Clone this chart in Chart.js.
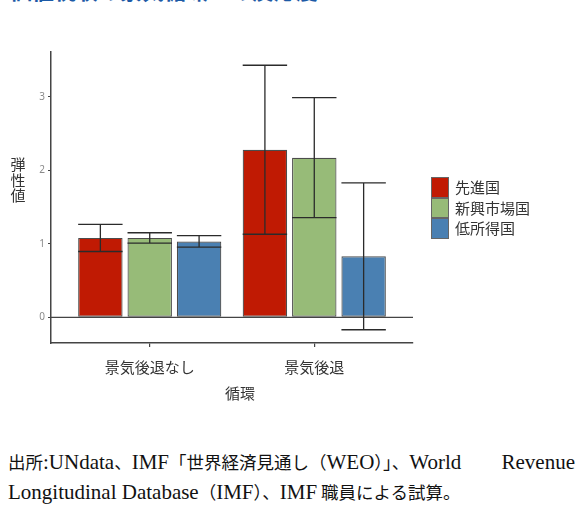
<!DOCTYPE html>
<html>
<head>
<meta charset="utf-8">
<script src="https://cdn.jsdelivr.net/npm/chart.js@4"></script>
<style>
  body { margin: 0; width: 580px; height: 523px; background: #fff; position: relative; overflow: hidden;
         font-family: "Noto Sans CJK JP", "Noto Sans", sans-serif; }
  #wrap { position: absolute; left: 0; top: 0; width: 580px; height: 420px; }
  .title { position: absolute; left: 10px; top: -22px; font-size: 22px; font-weight: bold; color: #1d5aa6; white-space: nowrap; line-height: 22px; }
  .ytitle { position: absolute; left: 10px; top: 156px; width: 16px; font-size: 15px; line-height: 15.5px; color: #333; text-align: center; }
  .xtitle { position: absolute; left: 210px; width: 60px; top: 384px; font-size: 15px; line-height: 18px; color: #333; text-align: center; }
  .legend { position: absolute; left: 431px; top: 177px; }
  .legend .row { height: 20.5px; position: relative; }
  .legend .sw { position: absolute; left: 0; top: 0; width: 16px; height: 18.5px; border: 1px solid #666; }
  .legend .lab { position: absolute; left: 24px; top: 0; font-size: 15px; line-height: 20px; color: #333; white-space: nowrap; }
  .note { position: absolute; left: 8px; top: 447px; width: 567px; font-family: "Noto Sans CJK JP", serif;
          font-size: 17.5px; line-height: 30px; color: #111; }
  .note .en { font-family: "Liberation Serif", serif; font-size: 21px; }
  .note .l1 { display: flex; justify-content: space-between; white-space: nowrap; }
</style>
</head>
<body>
<div class="title">価値税収の景気循環への反応度</div>
<div id="wrap"><canvas id="chart" width="580" height="420"></canvas></div>
<div class="ytitle">弾<br>性<br>値</div>
<div class="xtitle">循環</div>
<div class="legend" id="legend"></div>
<div class="note">
  <div class="l1"><span>出所<span class="en">:UNdata</span>、<span class="en">IMF</span>「世界経済見通し（<span class="en">WEO</span>）」、<span class="en">World</span></span><span class="en">Revenue</span></div>
  <div><span class="en">Longitudinal Database</span>（<span class="en">IMF</span>）、<span class="en">IMF</span> 職員による試算。</div>
</div>
<script>
const categories = ["景気後退なし", "景気後退"];
const seriesNames = ["先進国", "新興市場国", "低所得国"];
const colors = ["#C01A03", "#97BB78", "#4A80B2"];

// bar heights (point estimates)
const advanced = [1.08, 2.28];
const emerging = [1.08, 2.17];
const lowIncome = [1.03, 0.83];

// error bar limits
const advancedLow = [0.895, 1.13];
const advancedHigh = [1.265, 3.43];
const emergingLow = [1.01, 1.355];
const emergingHigh = [1.15, 2.99];
const lowIncomeLow = [0.955, -0.17];
const lowIncomeHigh = [1.11, 1.83];

const yTicks = [0, 1, 2, 3];

const values = [advanced, emerging, lowIncome];
const lows = [advancedLow, emergingLow, lowIncomeLow];
const highs = [advancedHigh, emergingHigh, lowIncomeHigh];

const toPoints = (arr) => arr.map((v, i) => ({ x: i + 1, y: v }));

// legend
const legend = document.getElementById("legend");
seriesNames.forEach((name, i) => {
  const row = document.createElement("div");
  row.className = "row";
  row.innerHTML = '<div class="sw" style="background:' + colors[i] + '"></div><div class="lab">' + name + "</div>";
  legend.appendChild(row);
});

const zeroLine = {
  id: "zeroLine",
  beforeDatasetsDraw(chart) {
    const { ctx, chartArea, scales } = chart;
    const y = scales.y.getPixelForValue(0);
    ctx.save();
    ctx.strokeStyle = "#444";
    ctx.lineWidth = 1.2;
    ctx.beginPath();
    ctx.moveTo(chartArea.left, y);
    ctx.lineTo(chartArea.right, y);
    ctx.stroke();
    ctx.restore();
  },
};

const errorBars = {
  id: "errorBars",
  afterDatasetsDraw(chart) {
    const { ctx, scales } = chart;
    ctx.save();
    chart.data.datasets.forEach((ds, di) => {
      const meta = chart.getDatasetMeta(di);
      meta.data.forEach((bar, i) => {
        const yLo = scales.y.getPixelForValue(lows[di][i]);
        const yHi = scales.y.getPixelForValue(highs[di][i]);
        const half = bar.width / 2;
        ctx.strokeStyle = "#2b2b2b";
        ctx.lineWidth = 1.3;
        ctx.beginPath();
        ctx.moveTo(bar.x, yHi);
        ctx.lineTo(bar.x, yLo);
        ctx.moveTo(bar.x - half, yHi);
        ctx.lineTo(bar.x + half, yHi);
        ctx.moveTo(bar.x - half, yLo);
        ctx.lineTo(bar.x + half, yLo);
        ctx.stroke();
      });
    });
    ctx.restore();
  },
};

new Chart(document.getElementById("chart"), {
  type: "bar",
  data: {
    datasets: seriesNames.map((name, i) => ({
      label: name,
      data: toPoints(values[i]),
      backgroundColor: colors[i],
      borderColor: "rgba(45,45,45,0.85)",
      borderWidth: 1.2,
      borderSkipped: false,
      categoryPercentage: 0.9,
      barPercentage: 0.9,
    })),
  },
  options: {
    responsive: false,
    animation: false,
    events: [],
    layout: { padding: { top: 52, right: 167, left: 0, bottom: 0 } },
    plugins: { legend: { display: false }, tooltip: { enabled: false } },
    scales: {
      x: {
        type: "linear",
        min: 0.4,
        max: 2.6,
        offset: false,
        afterBuildTicks: (scale) => {
          scale.ticks = categories.map((c, i) => ({ value: i + 1 }));
        },
        afterFit: (scale) => { scale.height = 77; },
        ticks: {
          callback: (v) => categories[v - 1],
          font: { family: "Noto Sans CJK JP", size: 15 },
          color: "#333",
          padding: 11,
          maxRotation: 0,
          autoSkip: false,
        },
        grid: { offset: false, drawOnChartArea: false, tickLength: 4, color: "#444", lineWidth: 1.2 },
        border: { color: "#444", width: 1.5 },
      },
      y: {
        min: -0.35,
        max: 3.61,
        afterBuildTicks: (scale) => {
          scale.ticks = yTicks.map((v) => ({ value: v }));
        },
        afterFit: (scale) => { scale.width = 51; },
        ticks: {
          font: { family: "Noto Sans", size: 10 },
          color: "#8a8a8a",
          padding: 3,
        },
        grid: { drawOnChartArea: false, tickLength: 3, color: "#444", lineWidth: 1 },
        border: { color: "#444", width: 1.5 },
      },
    },
  },
  plugins: [zeroLine, errorBars],
});
</script>
</body>
</html>
